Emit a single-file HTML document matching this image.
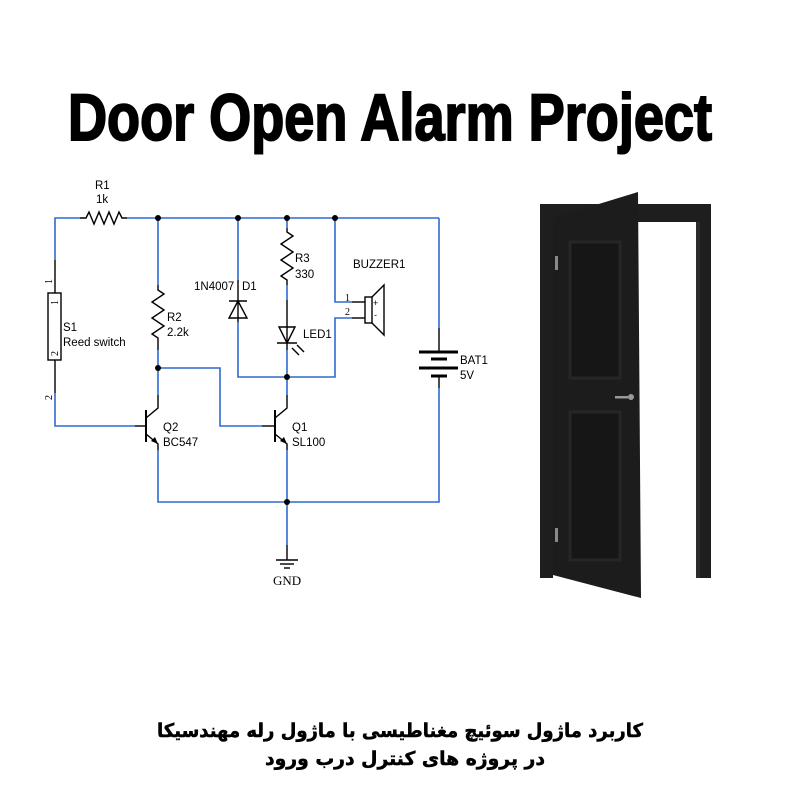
<!DOCTYPE html>
<html><head><meta charset="utf-8"><style>
body{margin:0;background:#fff;width:800px;height:800px;overflow:hidden}
svg{display:block}
</style></head><body>
<svg width="800" height="800" viewBox="0 0 800 800" xmlns="http://www.w3.org/2000/svg">
<rect width="800" height="800" fill="#fff"/>
<text x="390" y="140" text-anchor="middle" font-family="Liberation Sans Narrow, Liberation Sans, sans-serif" font-weight="bold" font-size="66" textLength="644" lengthAdjust="spacingAndGlyphs" fill="#000" stroke="#000" stroke-width="2">Door Open Alarm Project</text>

<g fill="none" stroke="#2e6ad1" stroke-width="1.6">
<polyline points="55,260 55,218 80,218"/>
<line x1="127" y1="218" x2="439" y2="218"/>
<polyline points="439,218 439,328"/>
<polyline points="439,388 439,502 158,502 158,450"/>
<polyline points="55,393 55,426 135,426"/>
<polyline points="158,218 158,285"/>
<polyline points="158,350 158,395"/>
<polyline points="158,368 220,368 220,426 262,426"/>
<polyline points="238,218 238,280"/>
<polyline points="238,322 238,377 335,377 335,318 352,318"/>
<polyline points="335,218 335,302 352,302"/>
<polyline points="287,218 287,228"/>
<polyline points="287,285 287,300"/>
<polyline points="287,350 287,395"/>
<polyline points="287,450 287,545"/>
</g>
<g fill="none" stroke="#000" stroke-width="1.4">
<polyline points="80,218 86,218 89,212 94,224 99,212 104,224 109,212 114,224 119,212 122,218 127,218"/>
<line x1="55" y1="260" x2="55" y2="293"/><line x1="55" y1="360" x2="55" y2="393"/>
<rect x="48" y="293" width="13" height="67" fill="#fff"/>
<polyline points="158,285 158,290 164,294 152,302 164,310 152,318 164,326 152,334 158,338 158,350"/>
<polyline points="287,228 287,232 293,236 281,244 293,252 281,260 293,268 281,276 287,280 287,285"/>
<line x1="238" y1="280" x2="238" y2="322"/>
<line x1="229" y1="301" x2="247" y2="301"/>
<polygon points="238,301 229,318 247,318"/>
<line x1="287" y1="300" x2="287" y2="350"/>
<polygon points="279,327 295,327 287,343"/>
<line x1="277" y1="343" x2="297" y2="343"/>
<line x1="292" y1="348" x2="299" y2="355"/><line x1="297" y1="345" x2="304" y2="352"/>
<line x1="352" y1="302" x2="365" y2="302"/><line x1="352" y1="318" x2="365" y2="318"/>
<rect x="365" y="297" width="7" height="26"/>
<polyline points="372,297 384,285 384,335 372,323"/>
<line x1="439" y1="328" x2="439" y2="352"/><line x1="439" y1="376" x2="439" y2="388"/>
<line x1="419" y1="352" x2="458" y2="352" stroke-width="3"/>
<line x1="431" y1="359" x2="447" y2="359" stroke-width="3"/>
<line x1="419" y1="368" x2="458" y2="368" stroke-width="3"/>
<line x1="431" y1="376" x2="447" y2="376" stroke-width="3"/>
<line x1="135" y1="426" x2="146" y2="426"/>
<line x1="146" y1="410" x2="146" y2="442" stroke-width="2"/>
<polyline points="146,418 158,408 158,395"/>
<polyline points="146,434 158,444 158,450"/>
<line x1="262" y1="426" x2="275" y2="426"/>
<line x1="275" y1="410" x2="275" y2="442" stroke-width="2"/>
<polyline points="275,418 287,408 287,395"/>
<polyline points="275,434 287,444 287,450"/>
<line x1="287" y1="545" x2="287" y2="560"/>
<line x1="276" y1="560" x2="298" y2="560"/><line x1="280" y1="564" x2="294" y2="564"/><line x1="284" y1="568" x2="290" y2="568"/>
</g>
<polygon points="158,444 151,441 155,437" fill="#000"/>
<polygon points="287,444 280,441 284,437" fill="#000"/>
<g fill="#000">
<circle cx="158" cy="218" r="3"/><circle cx="238" cy="218" r="3"/><circle cx="287" cy="218" r="3"/><circle cx="335" cy="218" r="3"/>
<circle cx="158" cy="368" r="3"/><circle cx="287" cy="377" r="3"/><circle cx="287" cy="502" r="3"/>
</g>
<g font-family="Liberation Sans, sans-serif" font-size="11.5" fill="#000">
<text x="95" y="189">R1</text><text x="96" y="203">1k</text>
<text x="63" y="331">S1</text><text x="63" y="346">Reed switch</text>
<text x="167" y="321">R2</text><text x="167" y="336">2.2k</text>
<text x="295" y="262">R3</text><text x="295" y="278">330</text>
<text x="194" y="290">1N4007</text><text x="242" y="290">D1</text>
<text x="303" y="338">LED1</text>
<text x="353" y="268">BUZZER1</text>
<text x="460" y="364">BAT1</text><text x="460" y="379">5V</text>
<text x="163" y="431">Q2</text><text x="163" y="446">BC547</text>
<text x="292" y="431">Q1</text><text x="292" y="446">SL100</text>
<text x="373" y="306" font-size="9">+</text><text x="374" y="318" font-size="9">-</text>
</g>
<g font-family="Liberation Serif, serif" font-size="10" fill="#000">
<text x="345" y="301">1</text><text x="345" y="315">2</text>
<text x="273" y="585" font-size="13">GND</text>
<text transform="translate(52,284) rotate(-90)">1</text>
<text transform="translate(52,400) rotate(-90)">2</text>
<text transform="translate(58,305) rotate(-90)">1</text>
<text transform="translate(58,356) rotate(-90)">2</text>
</g>

<polygon points="540,204 711,204 711,578 696,578 696,222 553,222 553,578 540,578" fill="#1e1e1e"/>
<rect x="696" y="222" width="4" height="356" fill="#2c2c2c"/>
<polygon points="553,218 638,192 641,598 553,575" fill="#1c1c1c"/>
<rect x="570" y="242" width="50" height="136" fill="#161616" stroke="#262626" stroke-width="3"/>
<rect x="570" y="412" width="50" height="148" fill="#161616" stroke="#262626" stroke-width="3"/>
<rect x="555" y="256" width="3" height="14" fill="#888"/>
<rect x="555" y="528" width="3" height="14" fill="#888"/>
<rect x="615" y="396" width="13" height="2.5" fill="#999"/>
<circle cx="631" cy="397" r="3" fill="#999"/>

<g font-family="DejaVu Sans, sans-serif" font-weight="bold" font-size="19" fill="#000" stroke="#000" stroke-width="0.5" text-anchor="middle" direction="rtl">
<text x="400" y="737" textLength="486" lengthAdjust="spacingAndGlyphs">کاربرد ماژول سوئیچ مغناطیسی با ماژول رله مهندسیکا</text>
<text x="405" y="765" textLength="280" lengthAdjust="spacingAndGlyphs">در پروژه های کنترل درب ورود</text>
</g>
</svg>
</body></html>
